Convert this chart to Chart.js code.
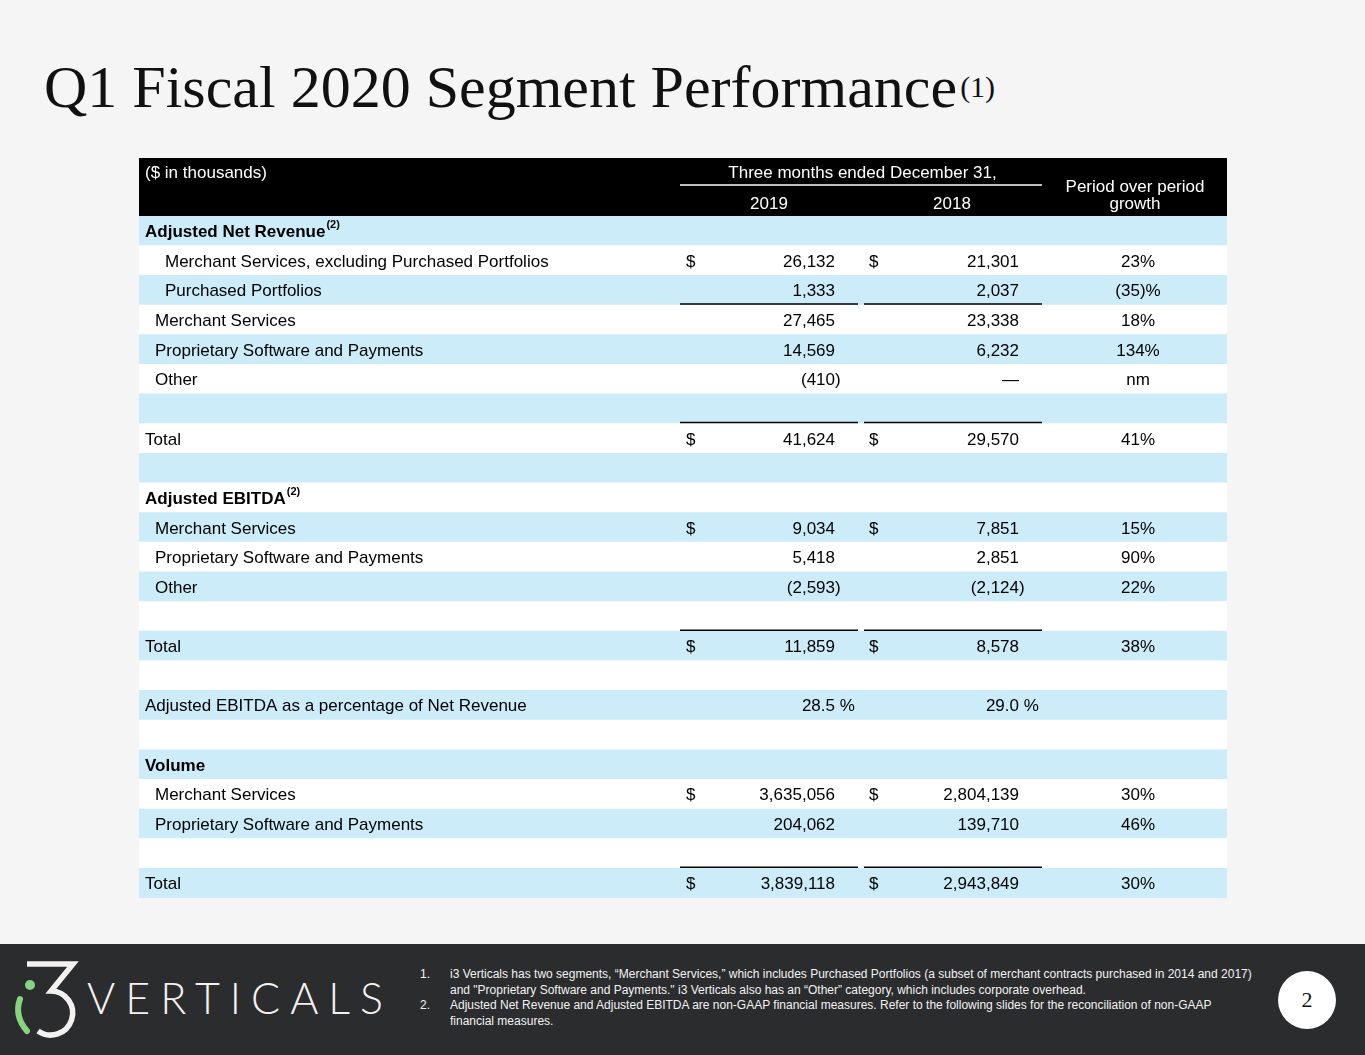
<!DOCTYPE html>
<html><head><meta charset="utf-8">
<script src="https://cdn.jsdelivr.net/npm/chart.js@4.4.1/dist/chart.umd.min.js"></script>
<style>
html,body{margin:0;padding:0}
body{width:1365px;height:1055px;overflow:hidden;position:relative;background:#f5f5f5;font-family:"Liberation Sans",Arial,sans-serif}
#title{position:absolute;left:44px;top:57px;font-family:"Liberation Serif","Times New Roman",serif;font-size:60px;line-height:60px;color:#111;white-space:nowrap}
#title .sup{font-size:30px;position:relative;top:-10px;margin-left:3px}
#wrap{position:absolute;left:0;top:0;width:1365px;height:1055px}
#footer{position:absolute;left:0;top:944px;width:1365px;height:111px;background:#2b2c2e;overflow:hidden}
#logo{position:absolute;left:0;top:0}
#brand{position:absolute;left:87px;top:32px;font-family:Lato,"Open Sans",sans-serif;font-weight:300;font-size:43px;line-height:43px;letter-spacing:10px;color:#f4f1f1;white-space:nowrap}
#notes{position:absolute;left:420px;top:23px;font-size:12px;line-height:15.5px;color:#f2f2f2;white-space:nowrap}
.fn{position:relative;padding-left:30px}
.fn .n{position:absolute;left:0;top:0}
#page{position:absolute;left:1278px;top:27px;width:58px;height:58px;border-radius:50%;background:#fff;color:#111;font-family:"Liberation Serif","Times New Roman",serif;font-size:22px;line-height:58px;text-align:center}
</style></head>
<body>
<div id="title">Q1 Fiscal 2020 Segment Performance<span class="sup">(1)</span></div>
<div id="wrap"><canvas id="c"></canvas></div>
<div id="footer">
  <svg id="logo" width="90" height="111" viewBox="0 944 90 111">
    <circle cx="30" cy="985" r="5" fill="#86d47f"/>
    <path d="M20,999 Q14,1016 27,1031" stroke="#86d47f" stroke-width="6" fill="none" stroke-linecap="round"/>
    <path d="M27,964 H73 L51,991 A22,22 0 1 1 38,1031" stroke="#f4f1f1" stroke-width="5.5" fill="none" stroke-linejoin="miter"/>
  </svg>
  <div id="brand">VERTICALS</div>
  <div id="notes">
    <div class="fn"><span class="n">1.</span>i3 Verticals has two segments, “Merchant Services,” which includes Purchased Portfolios (a subset of merchant contracts purchased in 2014 and 2017)<br>and "Proprietary Software and Payments." i3 Verticals also has an “Other” category, which includes corporate overhead.</div>
    <div class="fn"><span class="n">2.</span>Adjusted Net Revenue and Adjusted EBITDA are non-GAAP financial measures. Refer to the following slides for the reconciliation of non-GAAP<br>financial measures.</div>
  </div>
  <div id="page">2</div>
</div>
<script>
// ---------- data ----------
const rowLabels = [
  "Adjusted Net Revenue",
  "Merchant Services, excluding Purchased Portfolios",
  "Purchased Portfolios",
  "Merchant Services",
  "Proprietary Software and Payments",
  "Other",
  "",
  "Total",
  "",
  "Adjusted EBITDA",
  "Merchant Services",
  "Proprietary Software and Payments",
  "Other",
  "",
  "Total",
  "",
  "Adjusted EBITDA as a percentage of Net Revenue",
  "",
  "Volume",
  "Merchant Services",
  "Proprietary Software and Payments",
  "",
  "Total"
];
const rowLevels = [0,2,2,1,1,1,0,0,0,0,1,1,1,0,0,0,0,0,0,1,1,0,0];
const sectionRows = [0, 9, 18];
const noteRows = [0, 9];
const noteMark = "(2)";
const values2019 = [null,26132,1333,27465,14569,-410,null,41624,null,null,9034,5418,-2593,null,11859,null,28.5,null,null,3635056,204062,null,3839118];
const values2018 = [null,21301,2037,23338,6232,0,null,29570,null,null,7851,2851,-2124,null,8578,null,29.0,null,null,2804139,139710,null,2943849];
const growth = ["","23%","(35)%","18%","134%","nm","","41%","","","15%","90%","22%","","38%","","","","","30%","46%","","30%"];
const dollarRows = [1, 7, 10, 14, 19, 22];
const percentRows = [16];
const ruleAboveRows = [3, 7, 14, 22];
const headerUnits = "($ in thousands)";
const headerPeriod = "Three months ended December 31,";
const headerYears = ["2019", "2018"];
const headerGrowth = ["Period over period", "growth"];

// ---------- layout (table units along x scale) ----------
const TABLE_UNITS = 1088;
const LEVEL_X = [6, 16, 26];
const COL = {d19:547, v19:696, d18:730, v18:880, g:999, r19:[541,719], r18:[725,903], h19:630, h18:813, hPer:723.5, hGr:996};
const HEADER_H = 58;
const FONT = '"Liberation Sans", Arial, sans-serif';
const BLUE = '#ccecfa';

function fmt(v, pct){
  if (v === null || v === undefined) return null;
  if (pct) return {core: v.toFixed(1), tail: ' %'};
  if (v === 0) return {core: '\u2014', tail: ''};
  if (v < 0) return {core: '(' + Math.abs(v).toLocaleString('en-US'), tail: ')'};
  return {core: v.toLocaleString('en-US'), tail: ''};
}

const tablePlugin = {
  id: 'tableText',
  afterDatasetsDraw(chart){
    const {ctx, chartArea: ca, scales: {x: xs, y: ys}} = chart;
    const X = u => xs.getPixelForValue(u);
    ctx.save();
    // header band
    const hTop = ca.top - HEADER_H;
    ctx.fillStyle = '#000';
    ctx.fillRect(ca.left, hTop, ca.right - ca.left, HEADER_H);
    ctx.fillStyle = '#fff';
    ctx.font = '17px ' + FONT;
    ctx.textBaseline = 'middle';
    ctx.textAlign = 'left';
    ctx.fillText(headerUnits, X(LEVEL_X[0]), ca.top - 43);
    ctx.textAlign = 'center';
    ctx.fillText(headerPeriod, X(COL.hPer), ca.top - 43);
    ctx.fillText(headerYears[0], X(COL.h19), ca.top - 12);
    ctx.fillText(headerYears[1], X(COL.h18), ca.top - 12);
    ctx.fillText(headerGrowth[0], X(COL.hGr), ca.top - 29);
    ctx.fillText(headerGrowth[1], X(COL.hGr), ca.top - 12);
    ctx.strokeStyle = '#fff'; ctx.lineWidth = 1.5;
    ctx.beginPath(); ctx.moveTo(X(COL.r19[0]), ca.top - 31); ctx.lineTo(X(COL.r18[1]), ca.top - 31); ctx.stroke();

    // rows
    ctx.fillStyle = '#000';
    rowLabels.forEach((lab, i) => {
      const y = ys.getPixelForValue(i) + 1.5;
      const bold = sectionRows.includes(i);
      ctx.font = (bold ? 'bold ' : '') + '17px ' + FONT;
      ctx.textAlign = 'left';
      if (lab) {
        const lx = X(LEVEL_X[rowLevels[i]]);
        ctx.fillText(lab, lx, y);
        if (noteRows.includes(i)) {
          const w = ctx.measureText(lab).width;
          ctx.font = 'bold 11px ' + FONT;
          ctx.fillText(noteMark, lx + w + 1, y - 7);
          ctx.font = (bold ? 'bold ' : '') + '17px ' + FONT;
        }
      }
      ctx.font = '17px ' + FONT;
      if (dollarRows.includes(i)) {
        ctx.textAlign = 'left';
        ctx.fillText('$', X(COL.d19), y);
        ctx.fillText('$', X(COL.d18), y);
      }
      const pct = percentRows.includes(i);
      [[values2019[i], COL.v19], [values2018[i], COL.v18]].forEach(([v, c]) => {
        const f = fmt(v, pct);
        if (!f) return;
        ctx.textAlign = 'right'; ctx.fillText(f.core, X(c), y);
        if (f.tail) { ctx.textAlign = 'left'; ctx.fillText(f.tail, X(c), y); }
      });
      if (growth[i]) { ctx.textAlign = 'center'; ctx.fillText(growth[i], X(COL.g), y); }
    });

    // subtotal rules
    ctx.strokeStyle = '#000'; ctx.lineWidth = 1.5;
    ruleAboveRows.forEach(i => {
      const yb = (ys.getPixelForValue(i - 1) + ys.getPixelForValue(i)) / 2 - 1;
      [COL.r19, COL.r18].forEach(([a, b]) => {
        ctx.beginPath(); ctx.moveTo(X(a), yb); ctx.lineTo(X(b), yb); ctx.stroke();
      });
    });
    ctx.restore();
  }
};

new Chart(document.getElementById('c'), {
  type: 'bar',
  data: {
    labels: rowLabels.map((l, i) => l || ' '.repeat(i + 1)),
    datasets: [{
      data: rowLabels.map(() => [0, TABLE_UNITS]),
      backgroundColor: rowLabels.map((l, i) => i % 2 === 0 ? BLUE : '#ffffff'),
      borderWidth: 0,
      barPercentage: 1,
      categoryPercentage: 1
    }]
  },
  options: {
    indexAxis: 'y',
    responsive: true,
    maintainAspectRatio: false,
    animation: false,
    events: [],
    layout: {padding: {left: 139, right: 138, top: 216, bottom: 157}},
    scales: {
      x: {type: 'linear', min: 0, max: TABLE_UNITS, display: false},
      y: {type: 'category', display: false}
    },
    plugins: {legend: {display: false}, tooltip: {enabled: false}, title: {display: false}}
  },
  plugins: [tablePlugin]
});
</script>
</body></html>
